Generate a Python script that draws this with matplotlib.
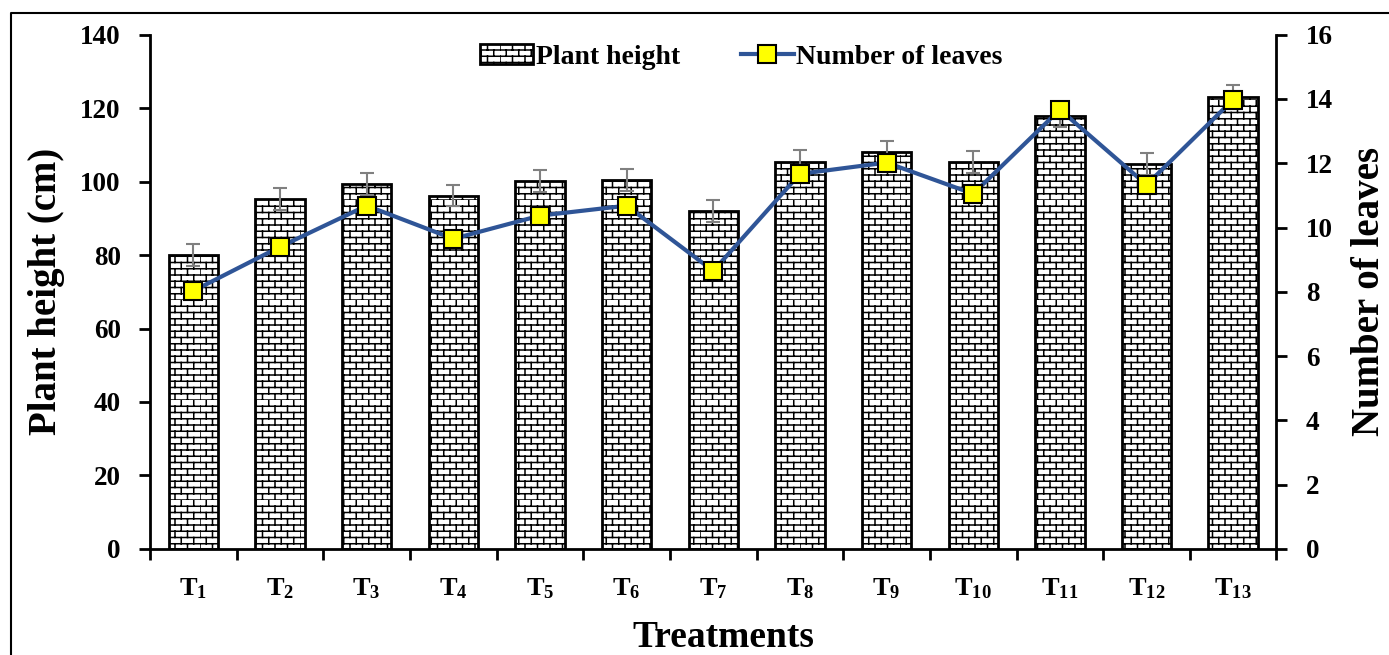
import numpy as np
import matplotlib
matplotlib.use("Agg")
import matplotlib.pyplot as plt
import matplotlib.hatch as mhatch
from matplotlib.path import Path
from matplotlib.lines import Line2D

treatments = [f"$\\mathbf{{T_{{{i}}}}}$" for i in range(1, 14)]
plant_height = [80.1, 95.3, 99.4, 96.2, 100.2, 100.5, 92.1, 105.4, 108.1, 105.4, 118.0, 104.9, 123.1]
height_err = [3.0, 3.0, 3.0, 2.8, 3.0, 3.0, 3.0, 3.2, 3.0, 3.0, 3.0, 3.0, 3.2]
leaves = [8.03, 9.40, 10.68, 9.65, 10.37, 10.68, 8.65, 11.67, 12.02, 11.05, 13.67, 11.33, 13.98]

# brick hatch: swap in for '+'
_orig_get_path = mhatch.get_path


def brick_get_path(hatchpattern, density=6):
    if hatchpattern != '+':
        return _orig_get_path(hatchpattern, density)
    rows, cols = 16, 8
    h, w = 1.0 / rows, 1.0 / cols
    verts, codes = [], []
    for r in range(rows):
        y = r * h
        verts += [(0, y), (1, y)]
        codes += [Path.MOVETO, Path.LINETO]
        off = 0 if r % 2 == 0 else w / 2
        for c in range(cols):
            x = off + c * w
            verts += [(x, y), (x, y + h)]
            codes += [Path.MOVETO, Path.LINETO]
    return Path(np.array(verts), np.array(codes, dtype=Path.code_type))


mhatch.get_path = brick_get_path

plt.rcParams['font.family'] = ['Liberation Serif', 'DejaVu Serif']
plt.rcParams['font.weight'] = 'bold'
plt.rcParams['mathtext.fontset'] = 'custom'
plt.rcParams['mathtext.rm'] = 'Liberation Serif'
plt.rcParams['mathtext.bf'] = 'Liberation Serif:bold'
plt.rcParams['hatch.linewidth'] = 1.1

fig = plt.figure(figsize=(13.89, 6.55), dpi=100)
ax = fig.add_axes([0.108, 0.162, 0.811, 0.785])
x = np.arange(len(treatments))

bars = ax.bar(x, plant_height, width=0.57, color='white', edgecolor='black',
              linewidth=2, hatch='+', label='Plant height', zorder=2)
ax.errorbar(x, plant_height, yerr=height_err, fmt='none', ecolor='#808080',
            elinewidth=1.5, capsize=5, capthick=1.5, zorder=3)

ax.set_xlim(-0.5, len(treatments) - 0.5)
ax.set_ylim(0, 140)
ax.set_yticks(range(0, 141, 20))
ax.set_xticks(np.arange(-0.5, len(treatments), 1), minor=False)
ax.set_xticklabels([])
ax.set_xticks(x, minor=True)
ax.set_xticklabels(treatments, minor=True, fontsize=19)
ax.tick_params(axis='x', which='minor', length=0, pad=20)
ax.tick_params(axis='x', which='major', direction='out', length=8, width=2)
ax.tick_params(axis='y', direction='out', length=8, width=2, labelsize=19.5, pad=13)
for s in ['left', 'bottom']:
    ax.spines[s].set_linewidth(2)
for s in ['top', 'right']:
    ax.spines[s].set_visible(False)
ax.set_ylabel('Plant height (cm)', fontsize=28, fontweight='bold', labelpad=11)
ax.set_xlabel('Treatments', fontsize=27, fontweight='bold')
ax.xaxis.set_label_coords(0.509, -0.138)

ax2 = ax.twinx()
line, = ax2.plot(x, leaves, color='#2F5597', linewidth=3, marker='s',
                 markersize=13, markerfacecolor='#FFFF00', markeredgecolor='black',
                 markeredgewidth=1.5, label='Number of leaves', zorder=4)
ax2.set_ylim(0, 16)
ax2.set_yticks(range(0, 17, 2))
ax2.tick_params(axis='y', direction='out', length=8, width=2, labelsize=19.5, pad=13)
ax2.spines['right'].set_linewidth(2)
for s in ['top', 'left', 'bottom']:
    ax2.spines[s].set_visible(False)
ax2.set_ylabel('Number of leaves', fontsize=28, fontweight='bold', labelpad=13)

leg = ax2.legend([bars, line], ['Plant height', 'Number of leaves'], loc='center',
                 bbox_to_anchor=(0.525, 0.957), ncol=2, frameon=False,
                 prop={'size': 20, 'weight': 'bold'}, handlelength=1.9,
                 handletextpad=0.1, columnspacing=2.2)

# figure border (left and top edges visible)
fig.add_artist(Line2D([11 / 1389, 11 / 1389, 1.01], [-0.01, 1 - 13 / 655, 1 - 13 / 655],
                      transform=fig.transFigure, color='black', linewidth=1.5))

fig.savefig('out.png', dpi=100)
